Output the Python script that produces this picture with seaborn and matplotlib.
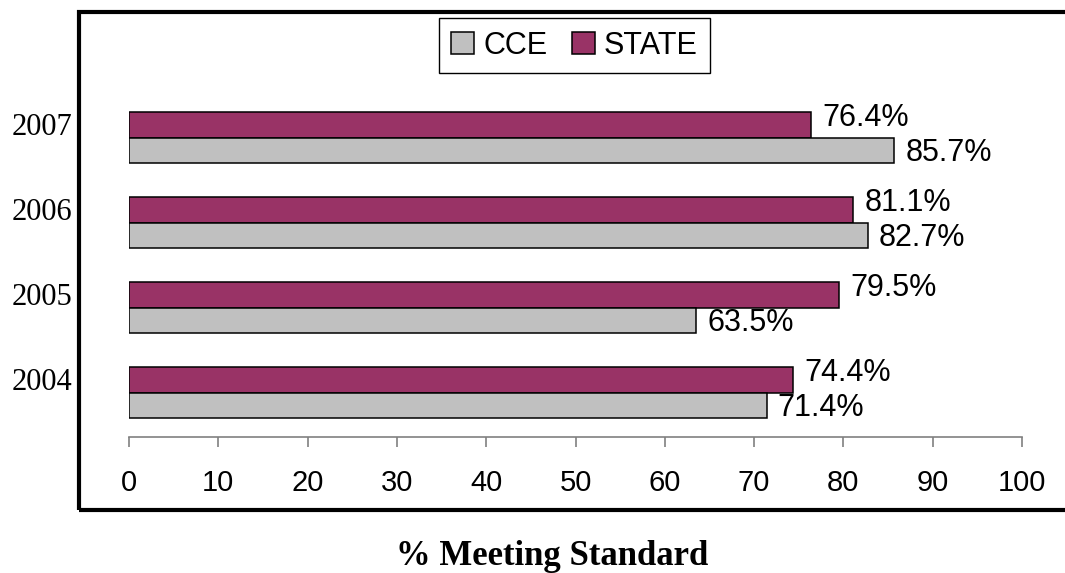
import pandas as pd
import matplotlib.pyplot as plt
import matplotlib.patches as mpatches
from matplotlib.transforms import ScaledTranslation
import seaborn as sns

# =========================
# DATA
# =========================

years = ["2007", "2006", "2005", "2004"]
cce = [85.7, 82.7, 63.5, 71.4]
state = [76.4, 81.1, 79.5, 74.4]
groups = ["CCE", "STATE"]
colors = {"CCE": "#C0C0C0", "STATE": "#993366"}

df = pd.DataFrame({
    "year": years * 2,
    "value": cce + state,
    "group": ["CCE"] * len(years) + ["STATE"] * len(years),
})

# =========================
# PLOT
# =========================

sns.set_style("white")
plt.rcParams["font.family"] = ["Liberation Sans", "DejaVu Sans"]
plt.rcParams["text.color"] = "black"
plt.rcParams["xtick.color"] = "black"
plt.rcParams["ytick.color"] = "black"

W, H = 1065, 573
fig = plt.figure(figsize=(W / 100, H / 100), dpi=100)
ax = fig.add_axes([129 / W, 1 - 437 / H, (1022 - 129) / W, (437 - 69.5) / H])

sns.barplot(data=df, x="value", y="year", hue="group", order=years,
            hue_order=["STATE", "CCE"], palette=colors, orient="h",
            width=0.6, edgecolor="black", linewidth=1.1, errorbar=None,
            saturation=1, legend=False, ax=ax)

# value labels; STATE ones sit a little higher as in the original
for cont, dy in zip(ax.containers, [5, -2]):
    labels = ax.bar_label(cont, fmt="{:.1f}%", padding=8, fontsize=22,
                          family="Liberation Sans", color="black")
    for t in labels:
        t.xyann = (t.xyann[0], dy)

ax.set_xlim(0, 100)
ax.set_ylim(3.52, -0.8)
ax.set_xticks(range(0, 101, 10))
ax.set_xlabel("")
ax.set_ylabel("")

for s in ["top", "right", "left"]:
    ax.spines[s].set_visible(False)
ax.spines["bottom"].set_color("#808080")
ax.spines["bottom"].set_linewidth(1.2)

ax.tick_params(axis="x", bottom=True, direction="out", length=7, width=1.2,
               color="#808080", labelcolor="black", pad=16, labelsize=21)
ax.tick_params(axis="y", left=False, length=0, pad=41, labelsize=22,
               labelcolor="black")
for lab in ax.get_yticklabels():
    lab.set_family("Liberation Serif")
    lab.set_transform(lab.get_transform() + ScaledTranslation(0, 0.14, fig.dpi_scale_trans))

# frame around the chart (right side runs off the picture)
frame = mpatches.Rectangle((78.5 / W, 1 - 510 / H), 1.1, (510 - 11.5) / H,
                           transform=fig.transFigure, fill=False,
                           edgecolor="black", linewidth=3, clip_on=False)
fig.add_artist(frame)

# legend
handles = [mpatches.Patch(facecolor=colors[g], edgecolor="black", linewidth=1.1, label=g)
           for g in groups]
fig.legend(handles=handles, loc="center", bbox_to_anchor=(574.5 / W, 1 - 45.5 / H),
           ncol=2, fontsize=22, frameon=True, fancybox=False, edgecolor="black",
           framealpha=1, handlelength=0.75, handleheight=0.75, handletextpad=0.3,
           columnspacing=0.8, borderpad=0.4, borderaxespad=0)

fig.text(552 / W, 1 - 565 / H, "% Meeting Standard", ha="center", va="baseline",
         fontsize=25, fontweight="bold", family="Liberation Serif")

fig.savefig("out.png", dpi=100)
